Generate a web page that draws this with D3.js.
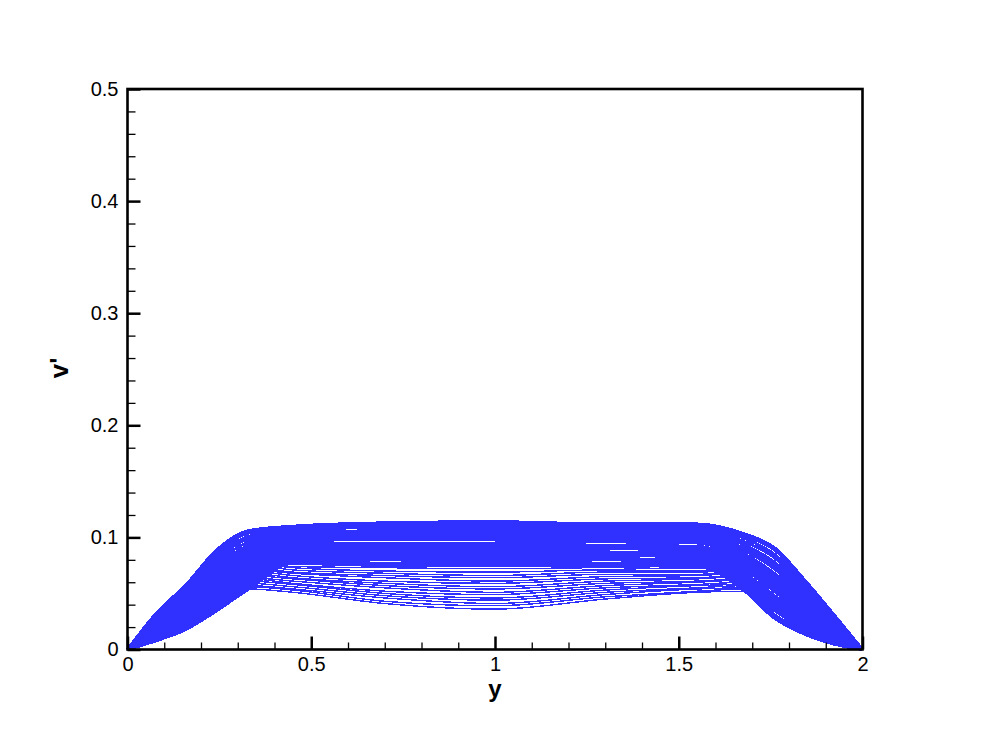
<!DOCTYPE html>
<html>
<head>
<meta charset="utf-8">
<script src="https://cdn.jsdelivr.net/npm/d3@7"></script>
<style>
  html, body { margin: 0; padding: 0; background: #ffffff; }
  svg { display: block; }
</style>
</head>
<body>
<script>
// ---- Data ----
const yGrid = [0, 0.08, 0.16, 0.24, 0.33, 0.45, 0.7, 1.0, 1.3, 1.55, 1.68, 1.76, 1.84, 1.92, 2.0];

// upper family of profiles (dense band)
const denseProfiles = [
  [0,.008,.018,.034,.054,.077,.075,.075,.075,.074,.052,.028,.014,.005,0],
  [0,.009,.020,.037,.057,.079,.077,.078,.077,.076,.055,.031,.017,.006,0],
  [0,.011,.022,.040,.060,.081,.080,.079,.080,.078,.057,.035,.019,.008,0],
  [0,.012,.024,.043,.062,.082,.081,.082,.081,.080,.060,.038,.022,.009,0],
  [0,.013,.026,.045,.065,.084,.083,.083,.084,.082,.063,.041,.025,.011,0],
  [0,.015,.029,.048,.068,.086,.086,.086,.086,.084,.066,.045,.027,.012,0],
  [0,.016,.031,.051,.071,.088,.087,.087,.087,.086,.068,.048,.030,.014,0],
  [0,.017,.033,.054,.074,.090,.089,.090,.090,.088,.071,.052,.032,.015,0],
  [0,.019,.035,.057,.076,.091,.092,.091,.092,.090,.074,.055,.035,.016,0],
  [0,.020,.037,.060,.079,.093,.094,.094,.093,.092,.077,.058,.038,.018,0],
  [0,.021,.039,.062,.082,.095,.095,.095,.096,.095,.079,.062,.040,.019,0],
  [0,.022,.041,.065,.085,.097,.098,.098,.098,.097,.082,.065,.043,.021,0],
  [0,.024,.043,.068,.088,.099,.100,.100,.099,.099,.085,.068,.046,.022,0],
  [0,.025,.045,.071,.090,.100,.103,.102,.102,.101,.088,.072,.048,.023,0],
  [0,.026,.047,.074,.093,.102,.104,.104,.104,.103,.090,.075,.051,.025,0],
  [0,.028,.050,.077,.096,.104,.106,.106,.105,.105,.093,.078,.053,.026,0],
  [0,.029,.052,.080,.099,.106,.109,.108,.108,.107,.096,.082,.056,.028,0],
  [0,.030,.054,.082,.101,.107,.110,.110,.110,.109,.099,.085,.059,.029,0],
  [0,.032,.056,.085,.104,.109,.112,.112,.111,.111,.101,.089,.061,.031,0],
  [0,.033,.058,.088,.106,.110,.113,.114,.112,.112,.103,.091,.063,.032,0]
];

// lower family of profiles (sparse band)
const sparseProfiles = [
  [0,.008,.018,.034,.054,.051,.041,.036,.045,.051,.052,.028,.014,.005,0],
  [0,.009,.019,.036,.056,.053,.043,.039,.047,.052,.054,.030,.016,.006,0],
  [0,.010,.021,.038,.057,.054,.046,.041,.049,.054,.055,.032,.017,.007,0],
  [0,.010,.022,.039,.059,.056,.048,.044,.051,.055,.057,.034,.019,.008,0],
  [0,.011,.023,.041,.061,.058,.050,.046,.053,.057,.058,.037,.021,.008,0],
  [0,.012,.025,.043,.063,.059,.052,.049,.055,.058,.060,.039,.022,.009,0],
  [0,.013,.026,.045,.064,.061,.055,.051,.057,.060,.062,.041,.024,.010,0],
  [0,.014,.027,.047,.066,.063,.057,.054,.059,.061,.063,.043,.026,.011,0],
  [0,.014,.029,.048,.068,.064,.059,.056,.061,.063,.065,.045,.027,.012,0],
  [0,.015,.030,.050,.070,.066,.061,.059,.063,.064,.066,.047,.029,.013,0],
  [0,.016,.031,.052,.071,.068,.064,.061,.065,.066,.068,.049,.031,.014,0],
  [0,.017,.033,.054,.073,.069,.066,.064,.067,.067,.070,.051,.032,.015,0],
  [0,.018,.034,.056,.075,.071,.068,.066,.069,.069,.071,.054,.034,.015,0],
  [0,.018,.035,.057,.077,.073,.070,.069,.071,.070,.073,.056,.036,.016,0],
  [0,.019,.037,.059,.078,.074,.073,.072,.073,.072,.074,.058,.037,.017,0],
  [0,.020,.038,.061,.080,.076,.075,.074,.075,.073,.076,.060,.039,.018,0]
];

const xMajorTicks = [0, 0.5, 1, 1.5, 2];
const xTickLabels = ["0", "0.5", "1", "1.5", "2"];
const xMinorTicks = [0.1,0.2,0.3,0.4,0.6,0.7,0.8,0.9,1.1,1.2,1.3,1.4,1.6,1.7,1.8,1.9];
const yMajorTicks = [0, 0.1, 0.2, 0.3, 0.4, 0.5];
const yTickLabels = ["0", "0.1", "0.2", "0.3", "0.4", "0.5"];
const yMinorTicks = [0.02,0.04,0.06,0.08,0.12,0.14,0.16,0.18,0.22,0.24,0.26,0.28,0.32,0.34,0.36,0.38,0.42,0.44,0.46,0.48];
const xTitle = "y";
const yTitle = "v'";

// ---- Drawing ----
(function () {
const W = 981, H = 730;
const pL = 127.5, pR = 862.5, pT = 89, pB = 649.5;
const lineColor = "#3030ff";
const font = "'Liberation Sans', Arial, Helvetica, sans-serif";

const svg = d3.select("body").append("svg").attr("width", W).attr("height", H);

const x = d3.scaleLinear().domain([0, 2]).range([pL, pR]);
const y = d3.scaleLinear().domain([0, 0.5]).range([pB, pT]);

const line = d3.line()
  .x((d, i) => x(yGrid[i]))
  .y(d => y(d))
  .curve(d3.curveMonotoneX);

const plot = svg.append("g");
plot.selectAll("path.sparse")
  .data(sparseProfiles)
  .join("path")
  .attr("class", "sparse")
  .attr("d", line)
  .attr("fill", "none")
  .attr("stroke", lineColor)
  .attr("stroke-width", 1.4)
  .attr("shape-rendering", "crispEdges");

plot.selectAll("path.dense")
  .data(denseProfiles)
  .join("path")
  .attr("class", "dense")
  .attr("d", line)
  .attr("fill", "none")
  .attr("stroke", lineColor)
  .attr("stroke-width", 3.0)
  .attr("shape-rendering", "crispEdges");

// minor ticks
svg.append("g")
  .attr("transform", `translate(0,${pB})`)
  .call(d3.axisBottom(x).tickValues(xMinorTicks).tickSize(-7).tickFormat(""))
  .call(g => g.select(".domain").remove())
  .call(g => g.selectAll(".tick line").attr("stroke", "#000").attr("stroke-width", 1.3));

svg.append("g")
  .attr("transform", `translate(${pL},0)`)
  .call(d3.axisLeft(y).tickValues(yMinorTicks).tickSize(-8).tickFormat(""))
  .call(g => g.select(".domain").remove())
  .call(g => g.selectAll(".tick line").attr("stroke", "#000").attr("stroke-width", 1.3));

// major ticks + labels
svg.append("g")
  .attr("transform", `translate(0,${pB})`)
  .call(d3.axisBottom(x).tickValues(xMajorTicks).tickSize(-13).tickPadding(7)
        .tickFormat((d, i) => xTickLabels[i]))
  .call(g => g.select(".domain").remove())
  .call(g => g.selectAll(".tick line").attr("stroke", "#000").attr("stroke-width", 2.5))
  .call(g => g.selectAll(".tick text").attr("font-family", font).attr("font-size", 20)
        .attr("fill", "#000").attr("dy", "0.71em"));

svg.append("g")
  .attr("transform", `translate(${pL},0)`)
  .call(d3.axisLeft(y).tickValues(yMajorTicks).tickSize(-13).tickPadding(9)
        .tickFormat((d, i) => yTickLabels[i]))
  .call(g => g.select(".domain").remove())
  .call(g => g.selectAll(".tick line").attr("stroke", "#000").attr("stroke-width", 2.5))
  .call(g => g.selectAll(".tick text").attr("font-family", font).attr("font-size", 20)
        .attr("fill", "#000"));

// frame
svg.append("rect")
  .attr("x", pL).attr("y", pT)
  .attr("width", pR - pL).attr("height", pB - pT)
  .attr("fill", "none").attr("stroke", "#000").attr("stroke-width", 2.6);

// axis titles
svg.append("text")
  .attr("x", (pL + pR) / 2).attr("y", 697)
  .attr("text-anchor", "middle")
  .attr("font-family", font).attr("font-size", 24).attr("font-weight", "bold")
  .text(xTitle);

svg.append("text")
  .attr("transform", `translate(68,368) rotate(-90)`)
  .attr("text-anchor", "middle")
  .attr("font-family", font).attr("font-size", 26).attr("font-weight", "bold")
  .text(yTitle);
})();
</script>
</body>
</html>
